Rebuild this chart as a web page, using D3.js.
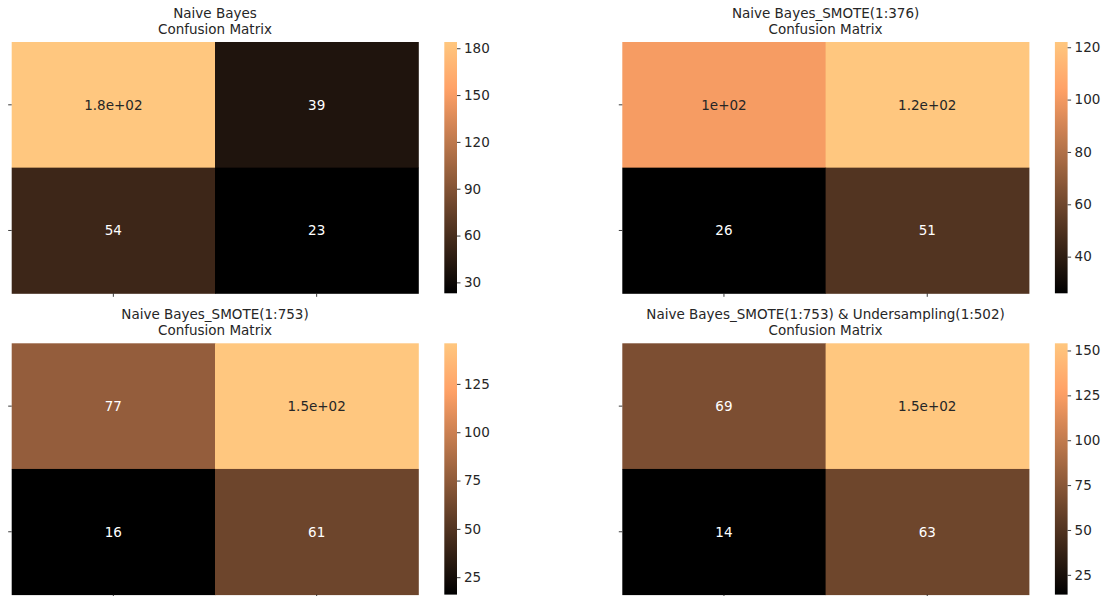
<!DOCTYPE html>
<html>
<head>
<meta charset="utf-8">
<script src="https://cdn.jsdelivr.net/npm/d3@7"></script>
<style>
  html, body { margin: 0; padding: 0; background: #fff; }
  svg { display: block; font-family: "DejaVu Sans", sans-serif; }
</style>
</head>
<body>
<svg id="chart" width="1113" height="596"></svg>
<script>
// Confusion matrices (rows: actual, cols: predicted)
const titles = [
  "Naive Bayes",
  "Naive Bayes_SMOTE(1:376)",
  "Naive Bayes_SMOTE(1:753)",
  "Naive Bayes_SMOTE(1:753) & Undersampling(1:502)"
];
const matrixNB          = [[184, 39], [54, 23]];
const matrixSmote376    = [[101, 122], [26, 51]];
const matrixSmote753    = [[77, 146], [16, 61]];
const matrixSmoteUnder  = [[69, 154], [14, 63]];
const matrices = [matrixNB, matrixSmote376, matrixSmote753, matrixSmoteUnder];

// Colorbar tick labels per panel
const cbTicksNB         = [30, 60, 90, 120, 150, 180];
const cbTicksSmote376   = [40, 60, 80, 100, 120];
const cbTicksSmote753   = [25, 50, 75, 100, 125];
const cbTicksSmoteUnder = [25, 50, 75, 100, 125, 150];
const cbTicks = [cbTicksNB, cbTicksSmote376, cbTicksSmote753, cbTicksSmoteUnder];

const rowLabels = ["0", "1"];
const colLabels = ["0", "1"];

// Layout
const colLeft = [11.7, 622.3];
const rowTop = [42, 343.3];
const hmW = 406.6, hmH = 251.3;
const cbOffset = 432.6, cbW = 12.7;
const fontSize = 13.5;

// matplotlib "copper" colormap
function copper(t) {
  t = Math.max(0, Math.min(1, t));
  const r = Math.min(1, t / 0.809524);
  const g = 0.7812 * t;
  const b = 0.4975 * t;
  return d3.rgb(r * 255, g * 255, b * 255);
}
function luminance(c) {
  const lin = v => { v /= 255; return v <= 0.03928 ? v / 12.92 : Math.pow((v + 0.055) / 1.055, 2.4); };
  return 0.2126 * lin(c.r) + 0.7152 * lin(c.g) + 0.0722 * lin(c.b);
}
// Python-style ".2g" formatting
function fmtG(x, p = 2) {
  if (x === 0) return "0";
  const exp = Math.floor(Math.log10(Math.abs(Number(x.toPrecision(p)))));
  if (exp < -4 || exp >= p) {
    let [m, e] = x.toExponential(p - 1).split("e");
    if (m.includes(".")) m = m.replace(/0+$/, "").replace(/\.$/, "");
    const sign = e[0] === "-" ? "-" : "+";
    let digits = e.replace(/^[+-]/, "");
    if (digits.length < 2) digits = "0" + digits;
    return m + "e" + sign + digits;
  }
  let s = x.toFixed(Math.max(0, p - 1 - exp));
  if (s.includes(".")) s = s.replace(/0+$/, "").replace(/\.$/, "");
  return s;
}

const svg = d3.select("#chart");
const defs = svg.append("defs");

matrices.forEach((m, i) => {
  const left = colLeft[i % 2], top = rowTop[Math.floor(i / 2)];
  const g = svg.append("g").attr("transform", `translate(${left},${top})`);
  const flat = m.flat();
  const vmin = d3.min(flat), vmax = d3.max(flat);
  const norm = d3.scaleLinear().domain([vmin, vmax]).range([0, 1]);

  const x = d3.scaleBand().domain(colLabels).range([0, hmW]);
  const y = d3.scaleBand().domain(rowLabels).range([0, hmH]);

  const cells = m.flatMap((row, r) => row.map((v, c) => ({ r, c, v })));

  g.selectAll("rect.cell").data(cells).join("rect")
    .attr("class", "cell")
    .attr("x", d => x(colLabels[d.c]))
    .attr("y", d => y(rowLabels[d.r]))
    .attr("width", x.bandwidth() + 0.5)
    .attr("height", y.bandwidth() + 0.5)
    .attr("fill", d => copper(norm(d.v)));

  g.selectAll("text.annot").data(cells).join("text")
    .attr("class", "annot")
    .attr("x", d => x(colLabels[d.c]) + x.bandwidth() / 2)
    .attr("y", d => y(rowLabels[d.r]) + y.bandwidth() / 2)
    .attr("text-anchor", "middle")
    .attr("dominant-baseline", "central")
    .attr("font-size", fontSize)
    .attr("fill", d => luminance(copper(norm(d.v))) > 0.408 ? "#262626" : "#ffffff")
    .text(d => fmtG(d.v));

  // Axis ticks without labels
  const yAxis = d3.axisLeft(y).tickSize(3.5).tickFormat("");
  const xAxis = d3.axisBottom(x).tickSize(3.5).tickFormat("");
  const ya = g.append("g").call(yAxis);
  const xa = g.append("g").attr("transform", `translate(0,${hmH})`).call(xAxis);
  [ya, xa].forEach(a => {
    a.select(".domain").remove();
    a.selectAll(".tick line").attr("stroke", "#262626").attr("stroke-width", 0.9);
  });

  // Title
  const title = g.append("text")
    .attr("x", hmW / 2)
    .attr("text-anchor", "middle")
    .attr("font-size", fontSize)
    .attr("fill", "#262626");
  title.append("tspan").attr("x", hmW / 2).attr("y", -24.5).text(titles[i]);
  title.append("tspan").attr("x", hmW / 2).attr("y", -8.4).text("Confusion Matrix");

  // Colorbar
  const gradId = "cb-grad-" + i;
  const grad = defs.append("linearGradient").attr("id", gradId)
    .attr("x1", 0).attr("y1", 1).attr("x2", 0).attr("y2", 0);
  d3.range(0, 1.0001, 0.02).forEach(t => {
    grad.append("stop").attr("offset", t).attr("stop-color", copper(t).formatHex());
  });
  const cb = g.append("g").attr("transform", `translate(${cbOffset},0)`);
  cb.append("rect").attr("width", cbW).attr("height", hmH).attr("fill", `url(#${gradId})`);
  const cbScale = d3.scaleLinear().domain([vmin, vmax]).range([hmH, 0]);
  const cbAxis = d3.axisRight(cbScale).tickValues(cbTicks[i]).tickSize(3.5).tickPadding(3.5);
  const cba = cb.append("g").attr("transform", `translate(${cbW},0)`).call(cbAxis);
  cba.select(".domain").remove();
  cba.selectAll(".tick line").attr("stroke", "#262626").attr("stroke-width", 0.9);
  cba.selectAll(".tick text")
    .attr("font-size", fontSize)
    .attr("font-family", "DejaVu Sans, sans-serif")
    .attr("fill", "#262626");
});
</script>
</body>
</html>
